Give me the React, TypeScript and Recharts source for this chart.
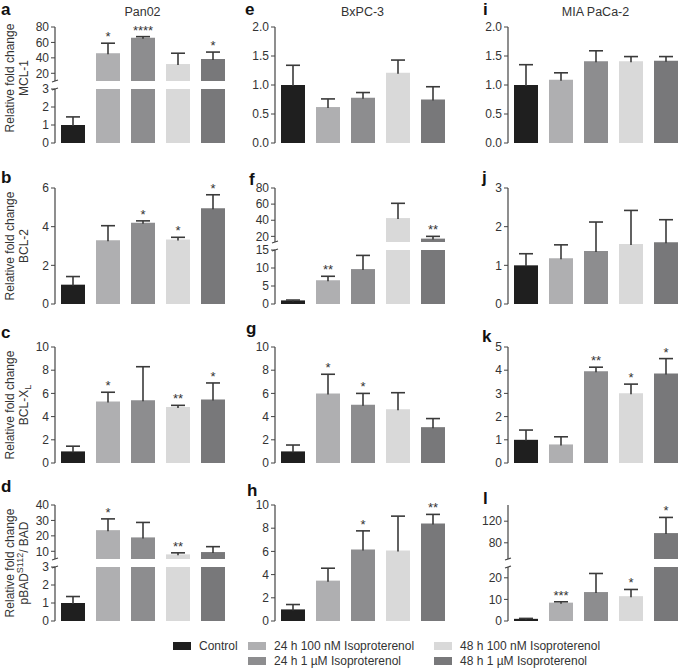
import React from 'react';
import { BarChart, Bar, XAxis, YAxis, Cell, LabelList } from 'recharts';

// treatment groups, same order in every panel
const groups = [
  'Control',
  '24 h 100 nM Isoproterenol',
  '24 h 1 µM Isoproterenol',
  '48 h 100 nM Isoproterenol',
  '48 h 1 µM Isoproterenol',
];
const groupColors = ['#1f1f1f', '#afafb1', '#8d8d8f', '#d9d9d9', '#78787a'];

const cellLines = ['Pan02', 'BxPC-3', 'MIA PaCa-2'];

// Pan02
const pan02Mcl1 = [1.0, 46, 66, 32, 38.5];
const pan02Mcl1Err = [0.45, 13, 1.5, 14, 9];
const pan02Mcl1Sig = ['', '*', '****', '', '*'];
const pan02Bcl2 = [1.0, 3.3, 4.2, 3.33, 4.95];
const pan02Bcl2Err = [0.42, 0.75, 0.1, 0.12, 0.7];
const pan02Bcl2Sig = ['', '', '*', '*', '*'];
const pan02BclXl = [1.0, 5.3, 5.4, 4.82, 5.47];
const pan02BclXlErr = [0.45, 0.8, 2.9, 0.15, 1.43];
const pan02BclXlSig = ['', '*', '', '**', '*'];
const pan02Pbad = [1.0, 23.7, 19, 8, 9.5];
const pan02PbadErr = [0.36, 7.3, 9.7, 1, 3.5];
const pan02PbadSig = ['', '*', '', '**', ''];

// BxPC-3
const bxpcMcl1 = [1.0, 0.62, 0.78, 1.21, 0.75];
const bxpcMcl1Err = [0.34, 0.14, 0.09, 0.22, 0.22];
const bxpcMcl1Sig = ['', '', '', '', ''];
const bxpcBcl2 = [1.0, 6.6, 9.7, 42.7, 17.2];
const bxpcBcl2Err = [0.1, 1.1, 3.8, 18.3, 2.8];
const bxpcBcl2Sig = ['', '**', '', '', '**'];
const bxpcBclXl = [1.0, 6.0, 5.03, 4.63, 3.09];
const bxpcBclXlErr = [0.55, 1.65, 0.97, 1.43, 0.74];
const bxpcBclXlSig = ['', '*', '*', '', ''];
const bxpcPbad = [1.0, 3.48, 6.17, 6.08, 8.4];
const bxpcPbadErr = [0.42, 1.07, 1.6, 2.96, 0.79];
const bxpcPbadSig = ['', '', '*', '', '**'];

// MIA PaCa-2
const miaMcl1 = [1.0, 1.09, 1.41, 1.41, 1.42];
const miaMcl1Err = [0.35, 0.12, 0.18, 0.08, 0.07];
const miaMcl1Sig = ['', '', '', '', ''];
const miaBcl2 = [1.0, 1.18, 1.37, 1.55, 1.6];
const miaBcl2Err = [0.3, 0.35, 0.75, 0.87, 0.58];
const miaBcl2Sig = ['', '', '', '', ''];
const miaBclXl = [1.0, 0.8, 3.96, 3.01, 3.86];
const miaBclXlErr = [0.42, 0.33, 0.17, 0.39, 0.64];
const miaBclXlSig = ['', '', '**', '*', '*'];
const miaPbad = [1.0, 8.5, 13.4, 11.5, 98];
const miaPbadErr = [0.2, 0.4, 8.6, 3.1, 29];
const miaPbadSig = ['', '***', '', '*', '*'];

const FONT = '"Liberation Sans", Arial, Helvetica, sans-serif';
const INK = '#333';
const AXIS = '#444';

const colX = [55, 275, 508];
const rowY = [27, 188, 347, 505];
const PLOT_W = 175;
const PLOT_H = 116;
const SEG_H = 54;
const GAP = 8;
const AXIS_W = 32;
const PAD = 10;

type Seg = { domain: [number, number]; ticks: number[]; fmt?: (v: number) => string };
type Panel = {
  letter: string;
  lx: number;
  ly: number;
  col: number;
  row: number;
  mean: number[];
  err: number[];
  sig: string[];
  lower: Seg;
  upper?: Seg;
};

const oneDec = (v: number) => v.toFixed(1);

const panels: Panel[] = [
  { letter: 'a', lx: 1, ly: 14, col: 0, row: 0, mean: pan02Mcl1, err: pan02Mcl1Err, sig: pan02Mcl1Sig,
    lower: { domain: [0, 3], ticks: [0, 1, 2, 3] }, upper: { domain: [10, 80], ticks: [20, 40, 60, 80] } },
  { letter: 'b', lx: 1, ly: 182, col: 0, row: 1, mean: pan02Bcl2, err: pan02Bcl2Err, sig: pan02Bcl2Sig,
    lower: { domain: [0, 6], ticks: [0, 2, 4, 6] } },
  { letter: 'c', lx: 1, ly: 337, col: 0, row: 2, mean: pan02BclXl, err: pan02BclXlErr, sig: pan02BclXlSig,
    lower: { domain: [0, 10], ticks: [0, 2, 4, 6, 8, 10] } },
  { letter: 'd', lx: 1, ly: 491, col: 0, row: 3, mean: pan02Pbad, err: pan02PbadErr, sig: pan02PbadSig,
    lower: { domain: [0, 3], ticks: [0, 1, 2, 3] }, upper: { domain: [5, 40], ticks: [10, 20, 30, 40] } },
  { letter: 'e', lx: 245, ly: 14, col: 1, row: 0, mean: bxpcMcl1, err: bxpcMcl1Err, sig: bxpcMcl1Sig,
    lower: { domain: [0, 2], ticks: [0, 0.5, 1, 1.5, 2], fmt: oneDec } },
  { letter: 'f', lx: 249, ly: 184, col: 1, row: 1, mean: bxpcBcl2, err: bxpcBcl2Err, sig: bxpcBcl2Sig,
    lower: { domain: [0, 15], ticks: [0, 5, 10, 15] }, upper: { domain: [13, 80], ticks: [20, 40, 60, 80] } },
  { letter: 'g', lx: 246, ly: 333, col: 1, row: 2, mean: bxpcBclXl, err: bxpcBclXlErr, sig: bxpcBclXlSig,
    lower: { domain: [0, 10], ticks: [0, 2, 4, 6, 8, 10] } },
  { letter: 'h', lx: 247, ly: 495, col: 1, row: 3, mean: bxpcPbad, err: bxpcPbadErr, sig: bxpcPbadSig,
    lower: { domain: [0, 10], ticks: [0, 2, 4, 6, 8, 10] } },
  { letter: 'i', lx: 483, ly: 14, col: 2, row: 0, mean: miaMcl1, err: miaMcl1Err, sig: miaMcl1Sig,
    lower: { domain: [0, 2], ticks: [0, 0.5, 1, 1.5, 2], fmt: oneDec } },
  { letter: 'j', lx: 482, ly: 182, col: 2, row: 1, mean: miaBcl2, err: miaBcl2Err, sig: miaBcl2Sig,
    lower: { domain: [0, 3], ticks: [0, 1, 2, 3] } },
  { letter: 'k', lx: 482, ly: 341, col: 2, row: 2, mean: miaBclXl, err: miaBclXlErr, sig: miaBclXlSig,
    lower: { domain: [0, 5], ticks: [0, 1, 2, 3, 4, 5] } },
  { letter: 'l', lx: 483, ly: 503, col: 2, row: 3, mean: miaPbad, err: miaPbadErr, sig: miaPbadSig,
    lower: { domain: [0, 25], ticks: [0, 10, 20] }, upper: { domain: [50, 150], ticks: [80, 120] } },
];

const geneLabels: React.ReactNode[] = [
  'MCL-1',
  'BCL-2',
  <>BCL-X<sub style={{ fontSize: 9, verticalAlign: 'sub', lineHeight: 0 }}>L</sub></>,
  <>pBAD<sup style={{ fontSize: 9, verticalAlign: 'super', lineHeight: 0 }}>S112</sup>/ BAD</>,
];

type Role = 'single' | 'lower' | 'upper';

function buildRows(p: Panel, seg: Seg, role: Role) {
  return groups.map((name, i) => {
    const m = p.mean[i];
    const top = m + p.err[i];
    let show = true;
    if (role === 'lower') show = top <= seg.domain[1];
    if (role === 'upper') show = m > seg.domain[0];
    return {
      name,
      value: role === 'upper' && !show ? null : m,
      err: show ? p.err[i] : null,
      sig: show ? p.sig[i] : '',
    };
  });
}

const ErrShape = (props: any) => {
  const { x, y, width, height } = props;
  if (![x, y, width, height].every((n) => Number.isFinite(n)) || height <= 0) return <g />;
  const cx = x + width / 2;
  return (
    <g>
      <line x1={cx} x2={cx} y1={y} y2={y + height + 1} stroke="#3a3a3a" strokeWidth={1.6} />
      <line x1={cx - 7} x2={cx + 7} y1={y} y2={y} stroke="#3a3a3a" strokeWidth={1.6} />
    </g>
  );
};

function Segment({ p, seg, role, top, height }: { p: Panel; seg: Seg; role: Role; top: number; height: number }) {
  const rows = buildRows(p, seg, role);
  return (
    <div style={{ position: 'absolute', left: colX[p.col] - AXIS_W, top: top - PAD }}>
      <BarChart
        width={AXIS_W + PLOT_W + 4}
        height={height + PAD * 2}
        data={rows}
        margin={{ top: PAD, right: 4, bottom: PAD, left: 0 }}
        barSize={24}
      >
        <XAxis dataKey="name" hide={role === 'upper'} tick={false} tickLine={false} height={0} axisLine={{ stroke: AXIS, strokeWidth: 1.2 }} />
        <YAxis
          type="number"
          domain={seg.domain}
          ticks={seg.ticks}
          allowDataOverflow
          interval={0}
          width={AXIS_W}
          tickSize={4}
          tickFormatter={seg.fmt}
          axisLine={{ stroke: AXIS, strokeWidth: 1.2 }}
          tickLine={{ stroke: AXIS }}
          tick={{ fill: INK, fontSize: 12, fontFamily: FONT }}
        />
        <Bar dataKey="value" stackId="s" isAnimationActive={false}>
          {rows.map((r, i) => (
            <Cell key={r.name} fill={groupColors[i]} />
          ))}
        </Bar>
        <Bar dataKey="err" stackId="s" isAnimationActive={false} shape={ErrShape}>
          <LabelList dataKey="sig" position="top" offset={2} fill={INK} fontSize={13} fontFamily={FONT} />
        </Bar>
      </BarChart>
    </div>
  );
}

function PanelView({ p }: { p: Panel }) {
  const top = rowY[p.row];
  if (!p.upper) return <Segment p={p} seg={p.lower} role="single" top={top} height={PLOT_H} />;
  return (
    <>
      <Segment p={p} seg={p.upper} role="upper" top={top} height={SEG_H} />
      <Segment p={p} seg={p.lower} role="lower" top={top + SEG_H + GAP} height={PLOT_H - SEG_H - GAP} />
    </>
  );
}

export default function App() {
  const text: React.CSSProperties = { position: 'absolute', fontFamily: FONT, color: INK, whiteSpace: 'nowrap', lineHeight: 1 };
  return (
    <div style={{ position: 'absolute', left: 0, top: 0, width: 685, height: 669, background: '#fff', overflow: 'hidden' }}>
      {cellLines.map((c, i) => (
        <div key={c} style={{ ...text, left: colX[i] + PLOT_W / 2, top: 12, fontSize: 12.5, transform: 'translate(-50%, -50%)' }}>
          {c}
        </div>
      ))}

      {panels.map((p) => (
        <div key={p.letter} style={{ ...text, left: p.lx, top: p.ly - 13.5, fontSize: 17, fontWeight: 'bold', color: '#111' }}>
          {p.letter}
        </div>
      ))}

      {geneLabels.map((g, r) => {
        const cy = rowY[r] + PLOT_H / 2 - (r === 0 ? 7 : 0);
        return (
          <React.Fragment key={r}>
            <div style={{ ...text, left: 9.5, top: cy, fontSize: 12, transform: 'translate(-50%, -50%) rotate(-90deg)' }}>
              Relative fold change
            </div>
            <div style={{ ...text, left: 23.5, top: cy, fontSize: 12, transform: 'translate(-50%, -50%) rotate(-90deg)' }}>
              {g}
            </div>
          </React.Fragment>
        );
      })}

      {panels.map((p) => (
        <PanelView key={p.letter} p={p} />
      ))}

      {/* break marks on the split axes */}
      <svg width={685} height={669} style={{ position: 'absolute', left: 0, top: 0, pointerEvents: 'none' }}>
        {panels
          .filter((p) => p.upper)
          .map((p) => {
            const ax = colX[p.col];
            const y1 = rowY[p.row] + SEG_H;
            const y2 = y1 + GAP;
            return (
              <g key={p.letter} stroke={AXIS} strokeWidth={1.2}>
                <line x1={ax - 3} x2={ax + 3} y1={y1 + 1} y2={y1 - 1} />
                <line x1={ax - 3} x2={ax + 3} y1={y2 + 1} y2={y2 - 1} />
              </g>
            );
          })}
      </svg>

      {/* legend */}
      {[
        { i: 0, x: 173, y: 646 },
        { i: 1, x: 248, y: 646 },
        { i: 2, x: 248, y: 661 },
        { i: 3, x: 434, y: 646 },
        { i: 4, x: 434, y: 661 },
      ].map(({ i, x, y }) => (
        <React.Fragment key={groups[i]}>
          <div style={{ position: 'absolute', left: x, top: y - 4, width: 18, height: 8, background: groupColors[i] }} />
          <div style={{ ...text, left: x + 26, top: y, fontSize: 12, transform: 'translateY(-50%)' }}>{groups[i]}</div>
        </React.Fragment>
      ))}
    </div>
  );
}
